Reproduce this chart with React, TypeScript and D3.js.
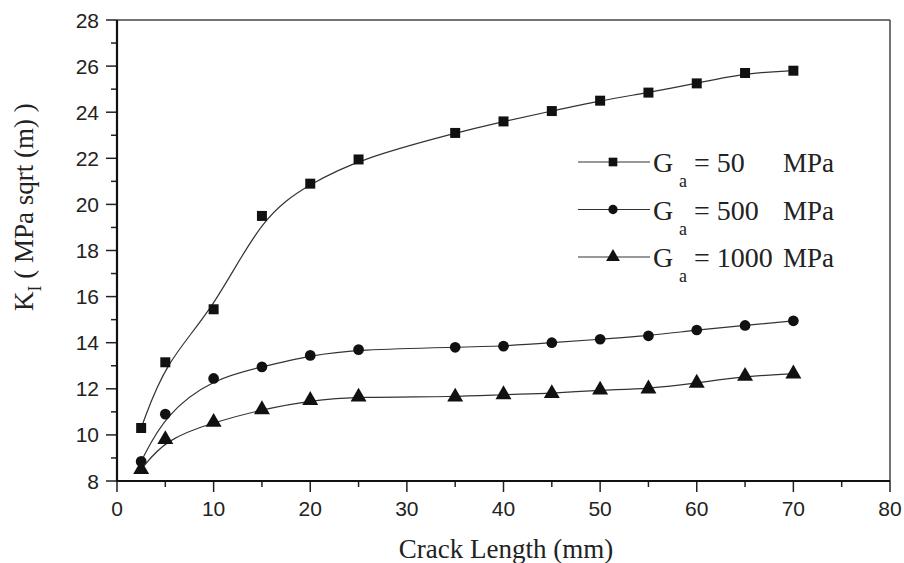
import React, { useRef, useEffect } from 'react';
import * as d3 from 'd3';

// crack length (mm)
const crackLength = [2.5, 5, 10, 15, 20, 25, 35, 40, 45, 50, 55, 60, 65, 70];

// K_I values for each adhesive shear modulus
const kGa50 = [10.3, 13.15, 15.45, 19.5, 20.9, 21.95, 23.1, 23.6, 24.05, 24.5, 24.85, 25.25, 25.7, 25.8];
const kGa500 = [8.85, 10.9, 12.45, 12.95, 13.45, 13.7, 13.8, 13.85, 14.0, 14.15, 14.3, 14.55, 14.75, 14.95];
const kGa1000 = [8.5, 9.8, 10.55, 11.1, 11.5, 11.65, 11.65, 11.75, 11.8, 11.95, 12.0, 12.25, 12.55, 12.65];

const seriesNames = ['50', '500', '1000'];
const seriesSymbols = [d3.symbolSquare, d3.symbolCircle, d3.symbolTriangle];

const xTicks = [0, 10, 20, 30, 40, 50, 60, 70, 80];
const yTicks = [8, 10, 12, 14, 16, 18, 20, 22, 24, 26, 28];

const width = 904;
const height = 563;

const App = () => {
    const ref = useRef(null);

    useEffect(() => {
        const svg = d3.select(ref.current)
            .attr('width', width)
            .attr('height', height)
            .style('background-color', 'white');

        svg.selectAll('*').remove();

        const x = d3.scaleLinear().domain([0, 80]).range([117, 890]);
        const y = d3.scaleLinear().domain([8, 28]).range([481, 20]);

        const serif = "'Liberation Serif', 'Times New Roman', 'DejaVu Serif', serif";
        const sans = "'Liberation Sans', Arial, sans-serif";

        // frame: top & right thinner
        svg.append('line')
            .attr('x1', x(0)).attr('x2', x(80)).attr('y1', y(28)).attr('y2', y(28))
            .attr('stroke', '#444').attr('stroke-width', 1.5);
        svg.append('line')
            .attr('x1', x(80)).attr('x2', x(80)).attr('y1', y(28)).attr('y2', y(8))
            .attr('stroke', '#444').attr('stroke-width', 1.5);

        // y ticks (major and minor)
        const yMinor = d3.range(9, 28, 2);
        svg.selectAll('.ymin').data(yMinor).enter().append('line')
            .attr('x1', x(0) - 6).attr('x2', x(0))
            .attr('y1', d => y(d)).attr('y2', d => y(d))
            .attr('stroke', '#222').attr('stroke-width', 1.5);
        svg.selectAll('.ymaj').data(yTicks).enter().append('line')
            .attr('x1', x(0) - 11).attr('x2', x(0))
            .attr('y1', d => y(d)).attr('y2', d => y(d))
            .attr('stroke', '#222').attr('stroke-width', 1.5);
        svg.selectAll('.ylab').data(yTicks).enter().append('text')
            .attr('x', 99).attr('y', d => y(d))
            .attr('dy', '0.36em')
            .attr('text-anchor', 'end')
            .attr('font-family', sans).attr('font-size', 21)
            .attr('fill', '#222')
            .text(d => d);

        // x ticks
        const xMinor = d3.range(5, 80, 10);
        svg.selectAll('.xmin').data(xMinor).enter().append('line')
            .attr('x1', d => x(d)).attr('x2', d => x(d))
            .attr('y1', y(8)).attr('y2', y(8) + 6)
            .attr('stroke', '#222').attr('stroke-width', 1.5);
        svg.selectAll('.xmaj').data(xTicks).enter().append('line')
            .attr('x1', d => x(d)).attr('x2', d => x(d))
            .attr('y1', y(8)).attr('y2', y(8) + 11)
            .attr('stroke', '#222').attr('stroke-width', 1.5);
        svg.selectAll('.xlab').data(xTicks).enter().append('text')
            .attr('x', d => x(d)).attr('y', 516)
            .attr('text-anchor', 'middle')
            .attr('font-family', sans).attr('font-size', 21)
            .attr('fill', '#222')
            .text(d => d);

        // left & bottom axis lines
        svg.append('line')
            .attr('x1', x(0)).attr('x2', x(0)).attr('y1', y(28)).attr('y2', y(8) + 1)
            .attr('stroke', '#111').attr('stroke-width', 2.2);
        svg.append('line')
            .attr('x1', x(0) - 1).attr('x2', x(80)).attr('y1', y(8)).attr('y2', y(8))
            .attr('stroke', '#111').attr('stroke-width', 2.2);

        // curves (smoothing spline like the original) + markers
        const allSeries = [kGa50, kGa500, kGa1000];
        const line = d3.line()
            .x(d => x(d[0]))
            .y(d => y(d[1]))
            .curve(d3.curveBasis);

        const markerSizes = [100, 90, 110];

        allSeries.forEach((vals, i) => {
            const pts = crackLength.map((c, j) => [c, vals[j]]);
            svg.append('path')
                .attr('d', line(pts))
                .attr('fill', 'none')
                .attr('stroke', '#333')
                .attr('stroke-width', 1.2);
            const sym = d3.symbol().type(seriesSymbols[i]).size(markerSizes[i]);
            svg.selectAll('.m' + i).data(pts).enter().append('path')
                .attr('d', sym)
                .attr('transform', d => `translate(${x(d[0])},${y(d[1])})`)
                .attr('fill', '#111');
        });

        // legend
        const legendRows = [162, 209.5, 257];
        seriesNames.forEach((name, i) => {
            const g = svg.append('g').attr('transform', `translate(0, ${legendRows[i]})`);
            g.append('line').attr('x1', 578).attr('x2', 650).attr('y1', 0).attr('y2', 0)
                .attr('stroke', '#333').attr('stroke-width', 1.2);
            g.append('path')
                .attr('d', d3.symbol().type(seriesSymbols[i]).size(markerSizes[i] * 0.75)())
                .attr('transform', 'translate(613,0)')
                .attr('fill', '#111');
            g.append('text').attr('x', 653).attr('y', 10)
                .attr('font-family', serif).attr('font-size', 28).attr('fill', '#222')
                .text('G');
            g.append('text').attr('x', 679).attr('y', 25)
                .attr('font-family', serif).attr('font-size', 18).attr('fill', '#222')
                .text('a');
            g.append('text').attr('x', 694).attr('y', 10)
                .attr('font-family', serif).attr('font-size', 28).attr('fill', '#222')
                .text('= ' + name);
            g.append('text').attr('x', 834).attr('y', 10)
                .attr('text-anchor', 'end')
                .attr('font-family', serif).attr('font-size', 27).attr('fill', '#222')
                .text('MPa');
        });

        // axis titles
        svg.append('text')
            .attr('x', 506).attr('y', 558)
            .attr('text-anchor', 'middle')
            .attr('font-family', serif).attr('font-size', 27).attr('fill', '#222')
            .text('Crack Length (mm)');

        const yt = svg.append('text')
            .attr('transform', 'translate(33, 311) rotate(-90)')
            .attr('font-family', serif).attr('font-size', 27).attr('fill', '#222');
        yt.append('tspan').text('K');
        yt.append('tspan').attr('dy', 8).attr('font-size', 18).text('I');
        yt.append('tspan').attr('dy', -8).text(' ( MPa sqrt (m) )');
    }, []);

    return (
        <div style={{ position: 'absolute', left: 0, top: 0 }}>
            <svg ref={ref}></svg>
        </div>
    );
};

export default App;
